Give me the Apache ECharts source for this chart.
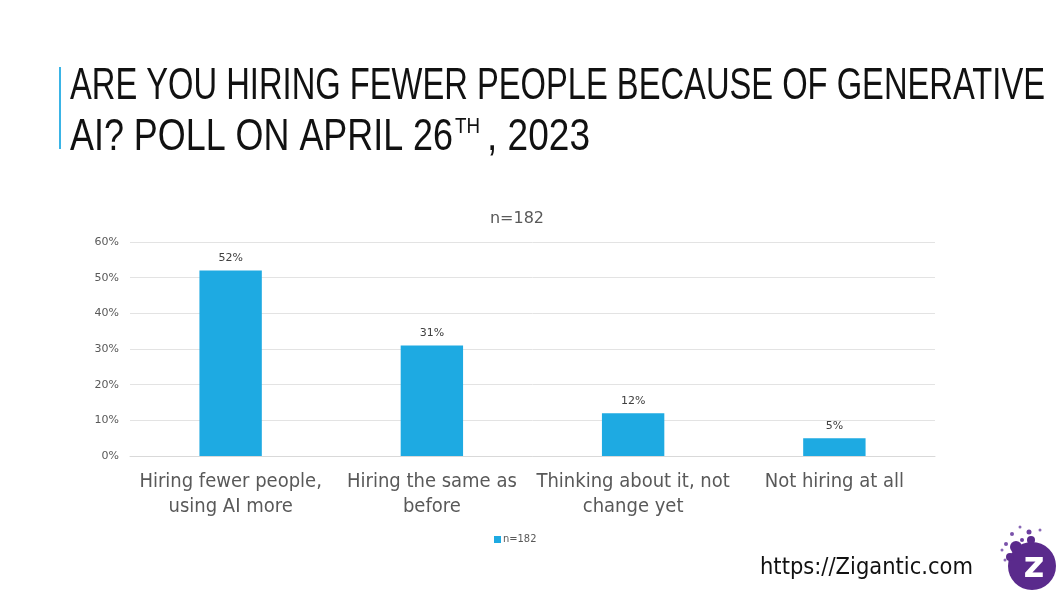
<!DOCTYPE html>
<html>
<head>
<meta charset="utf-8">
<script src="https://cdn.jsdelivr.net/npm/echarts@6/dist/echarts.min.js"></script>
<style>
html,body{margin:0;padding:0;background:#fff;}
#chart{width:1064px;height:596px;}
</style>
</head>
<body>
<div id="chart"></div>
<script>
// ---- Data ----
const titleLine1 = 'ARE YOU HIRING FEWER PEOPLE BECAUSE OF GENERATIVE';
const titleLine2a = 'AI? POLL ON APRIL 26';
const titleLine2sup = 'TH';
const titleLine2b = ', 2023';
const chartSubtitle = 'n=182';
const seriesName = 'n=182';
const categories = [
  'Hiring fewer people,\nusing AI more',
  'Hiring the same as\nbefore',
  'Thinking about it, not\nchange yet',
  'Not hiring at all'
];
const values = [52, 31, 12, 5];
const yTicks = [0, 10, 20, 30, 40, 50, 60];
const footerText = 'https://Zigantic.com';

// ---- helpers ----
const cvs = document.createElement('canvas').getContext('2d');
function measure(text, font) { cvs.font = font; return cvs.measureText(text).width; }

const TITLE_FONT_FAMILY = 'Liberation Sans';
const titleFont = '45px "' + TITLE_FONT_FAMILY + '"';
const supFont = '22px "' + TITLE_FONT_FAMILY + '"';
const s1 = 975 / measure(titleLine1, titleFont);
const s2a = 383 / measure(titleLine2a, titleFont);
const s2sup = 25 / measure(titleLine2sup, supFont);
const s2b = 103 / measure(titleLine2b, titleFont);

const footFont = '23px "DejaVu Sans Condensed", "DejaVu Sans"';
const footScale = 213 / measure(footerText, footFont);

const chart = echarts.init(document.getElementById('chart'), null, {renderer: 'canvas'});
const grey = '#595959';
const smallFont = 'DejaVu Sans';
const labelFont = 'DejaVu Sans Condensed';
const ink = '#111111';

function titleText(str, x, y, font, sx) {
  return {type: 'text', x: x, y: y, scaleX: sx,
    style: {text: str, font: font, fill: ink, verticalAlign: 'top', textVerticalAlign: 'top'}};
}

const option = {
  animation: false,
  backgroundColor: '#ffffff',
  title: {
    text: chartSubtitle,
    left: 512, top: 206,
    textAlign: 'center',
    textStyle: {fontSize: 16, fontWeight: 'normal', color: grey, fontFamily: smallFont}
  },
  legend: {
    left: 489, top: 529,
    itemWidth: 7, itemHeight: 7, itemGap: 4,
    icon: 'rect',
    textStyle: {fontSize: 11, color: grey, fontFamily: labelFont, padding: [0, 0, 0, -3]},
    data: [seriesName]
  },
  grid: {left: 130, right: 129, top: 242, bottom: 140},
  xAxis: {
    type: 'category',
    data: categories,
    axisLine: {show: true, lineStyle: {color: '#d9d9d9'}},
    axisTick: {show: false},
    axisLabel: {fontSize: 20, lineHeight: 25, color: grey, fontFamily: labelFont, margin: 13, interval: 0}
  },
  yAxis: {
    type: 'value',
    min: yTicks[0], max: yTicks[yTicks.length - 1], interval: yTicks[1] - yTicks[0],
    axisLine: {show: false},
    axisTick: {show: false},
    splitLine: {lineStyle: {color: '#e3e3e3'}},
    axisLabel: {formatter: '{value}%', fontSize: 11, color: grey, fontFamily: smallFont, margin: 11}
  },
  series: [{
    name: seriesName,
    type: 'bar',
    data: values,
    barWidth: '31%',
    itemStyle: {color: '#1eaae2'},
    label: {show: true, position: 'top', formatter: '{c}%', fontSize: 11, color: '#404040', fontFamily: smallFont, distance: 7}
  }],
  graphic: [
    {type: 'rect', shape: {x: 59, y: 67, width: 2, height: 82}, style: {fill: '#3ab4e6'}},
    titleText(titleLine1, 70, 64, titleFont, s1),
    titleText(titleLine2a, 70, 115, titleFont, s2a),
    titleText(titleLine2sup, 455, 116, supFont, s2sup),
    titleText(titleLine2b, 487, 115, titleFont, s2b),
    {type: 'text', x: 760, y: 568, scaleX: footScale,
      style: {text: footerText, font: footFont, fill: ink, verticalAlign: 'middle', textVerticalAlign: 'middle'}},
    // logo
    {type: 'circle', shape: {cx: 1032, cy: 566, r: 24}, style: {fill: '#5a2a8c'}},
    {type: 'circle', shape: {cx: 1016, cy: 547, r: 6}, style: {fill: '#5a2a8c'}},
    {type: 'circle', shape: {cx: 1031, cy: 540, r: 4}, style: {fill: '#5a2a8c'}},
    {type: 'circle', shape: {cx: 1010, cy: 557, r: 4}, style: {fill: '#5a2a8c'}},
    {type: 'circle', shape: {cx: 1029, cy: 532, r: 2.5}, style: {fill: '#6d3fa0'}},
    {type: 'circle', shape: {cx: 1022, cy: 540, r: 2}, style: {fill: '#6d3fa0'}},
    {type: 'circle', shape: {cx: 1012, cy: 534, r: 2}, style: {fill: '#7a52aa'}},
    {type: 'circle', shape: {cx: 1006, cy: 544, r: 2}, style: {fill: '#7a52aa'}},
    {type: 'circle', shape: {cx: 1002, cy: 550, r: 1.5}, style: {fill: '#8a68b6'}},
    {type: 'circle', shape: {cx: 1005, cy: 560, r: 1.5}, style: {fill: '#8a68b6'}},
    {type: 'circle', shape: {cx: 1020, cy: 527, r: 1.5}, style: {fill: '#8a68b6'}},
    {type: 'circle', shape: {cx: 1040, cy: 530, r: 1.5}, style: {fill: '#8a68b6'}},
    {type: 'text', x: 1034, y: 568, style: {text: 'z', font: 'bold 36px "DejaVu Sans"', fill: '#ffffff', align: 'center', verticalAlign: 'middle', textAlign: 'center', textVerticalAlign: 'middle'}}
  ]
};
chart.setOption(option);
</script>
</body>
</html>
